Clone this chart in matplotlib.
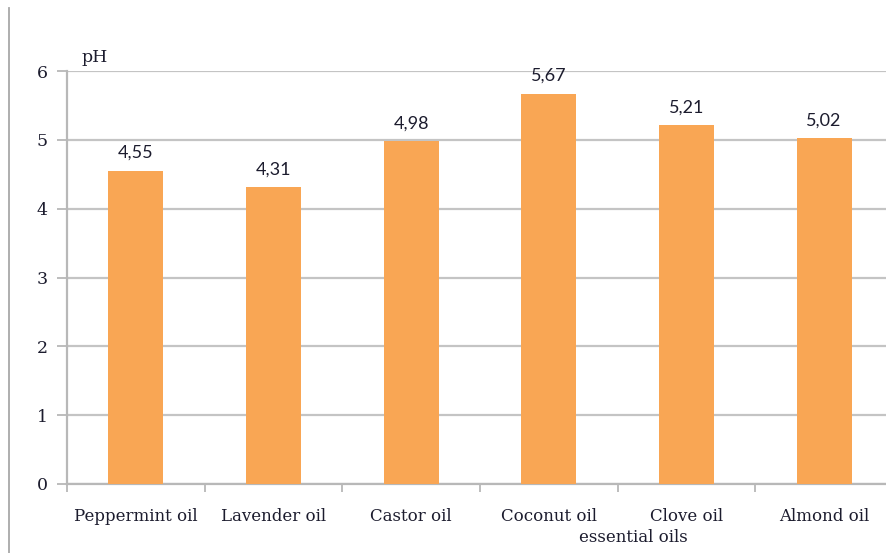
import matplotlib
matplotlib.use("Agg")
import matplotlib.pyplot as plt
from matplotlib.lines import Line2D

oils = ["Peppermint oil", "Lavender oil", "Castor oil", "Coconut oil", "Clove oil", "Almond oil"]
ph_values = [4.55, 4.31, 4.98, 5.67, 5.21, 5.02]
value_labels = ["4,55", "4,31", "4,98", "5,67", "5,21", "5,02"]
y_ticks = [0, 1, 2, 3, 4, 5, 6]

W, H = 887, 553
SERIF = "DejaVu Serif"
TXT = "#1c1c2e"
fig = plt.figure(figsize=(W / 100, H / 100), dpi=100)
# axes runs slightly past the right edge, as in the cropped original
ax = fig.add_axes([67 / W, 1 - 484 / H, 826 / W, 413 / H])

pos = [i + 0.5 for i in range(len(oils))]
ax.bar(pos, ph_values, width=0.4, color="#F9A654", zorder=3)

for x, v, lab in zip(pos, ph_values, value_labels):
    ax.annotate(lab, (x, v), xytext=(0, 7), textcoords="offset points",
                ha="center", va="bottom", fontsize=13, family="Lato", color=TXT)

ax.set_xlim(0, len(oils))
ax.set_ylim(0, 6)
ax.set_yticks(y_ticks)
ax.set_yticklabels([str(t) for t in y_ticks], family=SERIF, fontsize=12.5, color=TXT)
ax.yaxis.grid(True, color="#c4c4c4", linewidth=1.6, zorder=0)
ax.tick_params(axis="y", length=7, width=1.3, color="#b8b8b8", pad=7)

ax.set_xticks(range(len(oils) + 1))
ax.set_xticklabels([])
ax.set_xticks(pos, minor=True)
ax.set_xticklabels(oils, minor=True, family=SERIF, fontsize=12, color=TXT)
ax.tick_params(axis="x", which="major", length=6, width=1.3, color="#b8b8b8")
ax.tick_params(axis="x", which="minor", length=0, pad=17)

for s in ["top", "right"]:
    ax.spines[s].set_visible(False)
for s in ["left", "bottom"]:
    ax.spines[s].set_color("#b8b8b8")
    ax.spines[s].set_linewidth(1.6)

fig.text(82 / W, 1 - 58 / H, "pH", family=SERIF, fontsize=12.5, color=TXT, va="center")
fig.text(633 / W, 1 - 538 / H, "essential oils", family=SERIF, fontsize=12,
         color=TXT, ha="center", va="center")

# frame line on the far left
fig.add_artist(Line2D([9 / W, 9 / W], [0, 1 - 8 / H], color="#a8a8a8", linewidth=1.3))

fig.savefig("out.png", dpi=100)
